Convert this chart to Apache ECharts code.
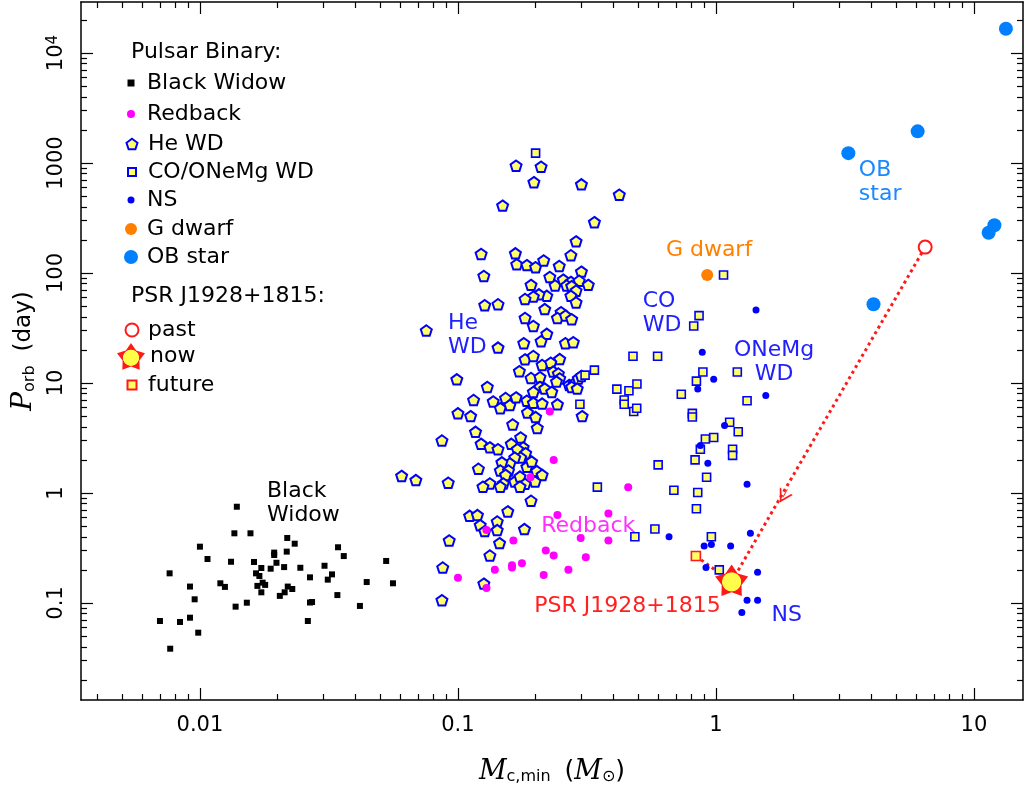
<!DOCTYPE html>
<html>
<head>
<meta charset="utf-8">
<title>Pulsar binaries: orbital period vs minimum companion mass</title>
<script src="https://cdn.jsdelivr.net/npm/echarts@6/dist/echarts.min.js"></script>
<style>
  html, body { margin: 0; padding: 0; background: #fff; }
  #chart { width: 1026px; height: 802px; }
</style>
</head>
<body>
<div id="chart"></div>
<script>
// minimum companion mass (Msun) and orbital period (day)
const bwMass = [0.0139, 0.0136, 0.0157, 0.0100, 0.0218, 0.0233, 0.0343, 0.0107, 0.0132, 0.0162,
  0.0194, 0.0194, 0.0217, 0.0198, 0.0173, 0.0188, 0.0212, 0.0245, 0.0361, 0.0304,
  0.0527, 0.00763, 0.0165, 0.0170, 0.0267, 0.0325, 0.0313, 0.0120, 0.0125, 0.0167,
  0.0175, 0.0179, 0.0219, 0.0228, 0.0173, 0.0213, 0.0204, 0.00915, 0.0443, 0.0560,
  0.00954, 0.0341, 0.0267, 0.0272, 0.0152, 0.01375, 0.0417, 0.0070, 0.00837, 0.00915,
  0.00985, 0.0262, 0.00767];
const bwPeriod = [0.75, 0.43, 0.43, 0.325, 0.39, 0.346, 0.321, 0.251, 0.237, 0.236,
  0.287, 0.273, 0.293, 0.232, 0.208, 0.205, 0.212, 0.209, 0.267, 0.218,
  0.241, 0.186, 0.186, 0.176, 0.171, 0.182, 0.163, 0.151, 0.140, 0.143,
  0.153, 0.146, 0.141, 0.134, 0.125, 0.125, 0.116, 0.141, 0.155, 0.151,
  0.108, 0.118, 0.101, 0.102, 0.1006, 0.0926, 0.094, 0.0686, 0.0672, 0.0735,
  0.0537, 0.0686, 0.0384];

const heWdMass = [0.168, 0.210, 0.197, 0.301, 0.422, 0.149, 0.338, 0.287, 0.123, 0.167,
  0.274, 0.126, 0.169, 0.185, 0.200, 0.215, 0.247, 0.301, 0.227, 0.192,
  0.238, 0.256, 0.274, 0.295, 0.320, 0.264, 0.276, 0.287, 0.274, 0.221,
  0.206, 0.196, 0.182, 0.287, 0.127, 0.143, 0.0754, 0.143, 0.217, 0.251,
  0.243, 0.261, 0.276, 0.182, 0.196, 0.221, 0.210, 0.180, 0.261, 0.280,
  0.182, 0.196, 0.248, 0.212, 0.229, 0.173, 0.192, 0.208, 0.234, 0.245,
  0.248, 0.241, 0.270, 0.282, 0.293, 0.301, 0.208, 0.217, 0.231, 0.196,
  0.276, 0.290, 0.099, 0.130, 0.115, 0.137, 0.146, 0.153, 0.159, 0.168,
  0.185, 0.196, 0.212, 0.243, 0.186, 0.200, 0.303, 0.100, 0.112, 0.163,
  0.203, 0.117, 0.175, 0.0867, 0.123, 0.133, 0.143, 0.161, 0.179, 0.170,
  0.183, 0.175, 0.166, 0.159, 0.148, 0.146, 0.157, 0.153, 0.166, 0.174,
  0.185, 0.193, 0.202, 0.212, 0.199, 0.182, 0.174, 0.150, 0.146, 0.133,
  0.125, 0.120, 0.0605, 0.0687, 0.0917, 0.192, 0.156, 0.111, 0.119, 0.122,
  0.127, 0.142, 0.142, 0.181, 0.145, 0.0925, 0.133, 0.0873, 0.126, 0.0867];
const heWdPeriod = [945, 925, 670, 640, 515, 410, 290, 194, 149, 151,
  145, 94, 120, 118, 113, 130, 116, 103, 92, 78,
  77, 87, 83, 85, 78, 77, 76, 69, 62, 62,
  64, 61, 58, 54, 51, 52, 30, 21, 47, 44,
  39, 41, 38, 39, 33, 28, 24, 23, 23, 23.5,
  16.4, 17.6, 16.5, 14.6, 15.3, 12.8, 11.1, 11.3, 12.7, 12.2,
  11.0, 10.3, 9.6, 9.9, 11.0, 11.6, 9.2, 8.9, 8.3, 8.3,
  9.2, 8.9, 10.8, 9.2, 7.0, 6.8, 5.9, 7.3, 6.3, 7.4,
  6.9, 6.6, 6.5, 6.4, 5.4, 4.9, 5.0, 5.3, 5.0, 4.2,
  3.9, 3.6, 3.2, 3.0, 2.8, 2.6, 2.5, 2.8, 2.6, 2.5,
  2.3, 2.1, 2.1, 1.86, 1.9, 1.6, 1.6, 1.46, 1.27, 1.41,
  1.73, 1.93, 1.58, 1.46, 1.27, 1.21, 1.14, 1.22, 1.14, 1.22,
  1.14, 1.66, 1.43, 1.31, 1.24, 0.85, 0.68, 0.62, 0.63, 0.51,
  0.45, 0.55, 0.46, 0.47, 0.35, 0.37, 0.27, 0.21, 0.15, 0.106];

const coWdMass = [0.200, 1.07, 0.86, 0.82, 0.477, 0.594, 0.89, 0.84, 1.21, 0.338,
  0.311, 0.297, 0.413, 0.460, 0.494, 0.441, 0.441, 0.480, 0.493, 0.734,
  0.81, 0.81, 1.32, 1.13, 1.22, 0.98, 0.91, 0.87, 1.16, 1.16,
  0.597, 0.83, 0.92, 0.687, 0.85, 0.84, 0.58, 0.96, 1.03, 0.347, 0.485];
const coWdPeriod = [1230, 96, 41, 33, 17.5, 17.5, 12.6, 10.4, 12.6, 13.1,
  11.8, 6.4, 8.8, 8.5, 9.8, 7.0, 6.4, 5.5, 5.9, 7.9,
  5.3, 4.9, 6.9, 4.4, 3.6, 3.2, 3.1, 2.5, 2.5, 2.2,
  1.8, 2.0, 1.39, 1.06, 1.01, 0.72, 0.47, 0.40, 0.20, 1.13, 0.40];

const nsMass = [1.43, 0.885, 0.98, 0.85, 1.56, 1.08, 0.87, 0.93, 1.32, 0.658,
  1.36, 0.90, 0.96, 1.14, 0.915, 1.45, 1.32, 1.45, 1.26];
const nsPeriod = [46, 19, 10.8, 8.8, 7.7, 4.1, 2.7, 1.86, 1.2, 0.40,
  0.43, 0.33, 0.34, 0.33, 0.21, 0.19, 0.106, 0.106, 0.082];

const redbackMass = [0.235, 0.191, 0.243, 0.129, 0.164, 0.219, 0.235, 0.177, 0.162, 0.162,
  0.139, 0.215, 0.100, 0.129, 0.227, 0.457, 0.383, 0.299, 0.383, 0.313, 0.268];
const redbackPeriod = [2.0, 1.39, 0.63, 0.46, 0.37, 0.30, 0.27, 0.23, 0.22, 0.21,
  0.20, 0.18, 0.17, 0.137, 5.5, 1.13, 0.65, 0.39, 0.37, 0.26, 0.20];

const gDwarfMass = [0.925];
const gDwarfPeriod = [96];

const obMass = [13.3, 6.05, 3.26, 12.0, 11.4, 4.08];
const obPeriod = [16600, 1940, 1230, 272, 232, 52];

// PSR J1928+1815 evolution [mass, period]
const psrPast = [6.47, 172];
const psrNow = [1.15, 0.156];
const psrFuture = [0.836, 0.267];
const arrowTip = [1.82, 0.92];

// axes
const massRange = [0.00346, 15.49];
const periodRange = [0.01312, 29100];
const massTicks = [0.01, 0.1, 1, 10];
const massTickLabels = ['0.01', '0.1', '1', '10'];
const periodTicks = [0.1, 1, 10, 100, 1000, 10000];
const periodTickLabels = ['0.1', '1', '10', '100', '1000', '{b|10}{sup|4}'];

// text notes inside the plot
const noteText = ['Black\nWidow', 'He\nWD', 'CO\nWD', 'ONeMg\nWD', 'G dwarf', 'OB\nstar', 'Redback', 'PSR J1928+1815', 'NS'];
const noteMass = [0.0182, 0.0915, 0.52, 1.68, 0.94, 3.58, 0.32, 0.454, 1.88];
const notePeriod = [0.80, 27.3, 42.6, 15.5, 162, 665, 0.494, 0.0925, 0.078];
const noteColor = ['#000000', '#2020ff', '#2020ff', '#2020ff', '#ff8000', '#1a88ff', '#ff30ff', '#ff2020', '#2020ff'];
const noteAlign = ['left', 'left', 'left', 'center', 'center', 'left', 'center', 'center', 'center'];

const FONT = 'DejaVu Sans';
const lg = Math.log10;
const pt = p => [lg(p[0]), lg(p[1])];
const pts = (m, p) => m.map((v, i) => [lg(v), lg(p[i])]);

function minorTicks(range) {
  const out = [];
  for (let d = -3; d <= 4; d++) {
    for (let k = 2; k <= 9; k++) {
      const v = k * Math.pow(10, d);
      if (v > range[0] && v < range[1]) out.push(lg(v));
    }
  }
  return out;
}

const SQUARE = 'path://M0,0 L10,0 L10,10 L0,10 Z';
const PENTAGON = 'path://M10,0 L19.51,6.91 L15.88,18.09 L4.12,18.09 L0.49,6.91 Z';
const STAR = 'path://M10,0 L13.53,5.15 L19.51,6.91 L15.71,11.85 L15.88,18.09 L10,16 L4.12,18.09 L4.29,11.85 L0.49,6.91 L6.47,5.15 Z';
const CHEVRON = 'path://M0,12 L7,0 L14,12 L12.2,12 L7,3.2 L1.8,12 Z';
const YELLOW = '#ffff66';
const RED = '#ff1a1a';

function axis(pos, range, major, length, opts) {
  return Object.assign({
    type: 'value',
    position: pos,
    min: lg(range[0]),
    max: lg(range[1]),
    splitLine: { show: false },
    axisLine: { show: false, onZero: false },
    axisTick: { show: true, inside: true, length: length, customValues: major,
      lineStyle: { color: '#000', width: 1.2 } },
    axisLabel: { show: false }
  }, opts || {});
}

const frameLine = { show: true, onZero: false, lineStyle: { color: '#000', width: 1.5 } };
const massMajor = massTicks.map(lg);
const periodMajor = periodTicks.map(lg);
const massMinor = minorTicks(massRange);
const periodMinor = minorTicks(periodRange);

function tickLabel(ticks, labels) {
  return v => {
    const i = ticks.findIndex(t => Math.abs(lg(t) - v) < 1e-6);
    return i < 0 ? '' : labels[i];
  };
}

const xAxes = [
  axis('bottom', massRange, massMajor, 12, {
    axisLine: frameLine,
    axisLabel: { show: true, customValues: massMajor, formatter: tickLabel(massTicks, massTickLabels),
      margin: 15, fontFamily: FONT, fontSize: 21, color: '#000' },
    name: '{m|M}{s|c,min}  {p|(}{m|M}{s|⊙}{p|)}',
    nameLocation: 'middle',
    nameGap: 58,
    nameTextStyle: {
      color: '#000', fontFamily: FONT, fontSize: 22,
      rich: {
        m: { fontFamily: 'DejaVu Serif', fontStyle: 'italic', fontSize: 27, color: '#000' },
        s: { fontFamily: FONT, fontSize: 16, verticalAlign: 'bottom', color: '#000' },
        p: { fontFamily: FONT, fontSize: 25, color: '#000' }
      }
    }
  }),
  axis('bottom', massRange, massMinor, 6),
  axis('top', massRange, massMajor, 12, { axisLine: frameLine }),
  axis('top', massRange, massMinor, 6)
];

const yAxes = [
  axis('left', periodRange, periodMajor, 12, {
    axisLine: frameLine,
    axisLabel: { show: true, customValues: periodMajor, formatter: tickLabel(periodTicks, periodTickLabels),
      rotate: 90, margin: 14, fontFamily: FONT, fontSize: 21, color: '#000',
      rich: {
        b: { fontFamily: FONT, fontSize: 21, color: '#000' },
        sup: { fontFamily: FONT, fontSize: 15, verticalAlign: 'top', color: '#000' }
      } },
    name: '{m|P}{s|orb}  {p|(day)}',
    nameLocation: 'middle',
    nameGap: 40,
    nameTextStyle: {
      color: '#000', fontFamily: FONT, fontSize: 22,
      rich: {
        m: { fontFamily: 'DejaVu Serif', fontStyle: 'italic', fontSize: 28, color: '#000' },
        s: { fontFamily: FONT, fontSize: 16, verticalAlign: 'bottom', color: '#000' },
        p: { fontFamily: FONT, fontSize: 23, color: '#000' }
      }
    }
  }),
  axis('left', periodRange, periodMinor, 6),
  axis('right', periodRange, periodMajor, 12, { axisLine: frameLine }),
  axis('right', periodRange, periodMinor, 6)
];

function scatter(name, data, symbol, size, itemStyle, extra) {
  return Object.assign({
    name: name,
    type: 'scatter',
    data: data,
    symbol: symbol,
    symbolSize: size,
    symbolKeepAspect: true,
    itemStyle: Object.assign({ opacity: 1 }, itemStyle),
    emphasis: { disabled: true },
    silent: true,
    animation: false,
    z: 3
  }, extra || {});
}

// arrow head sits on the past -> now track
const tipLog = pt(arrowTip);
const pastLog = pt(psrPast);
const preLog = [tipLog[0] + 0.03 * (pastLog[0] - tipLog[0]), tipLog[1] + 0.03 * (pastLog[1] - tipLog[1])];

const dotted = { color: RED, width: 3, type: [3, 3.5] };

const series = [
  {
    name: 'track', type: 'line', data: [pt(psrPast), pt(psrNow)], symbol: 'none', silent: true,
    lineStyle: dotted, animation: false, z: 1,
    markLine: {
      silent: true, animation: false, symbol: ['none', CHEVRON], symbolSize: [15, 13],
      label: { show: false }, lineStyle: { color: RED, width: 1, type: 'solid', opacity: 1 },
      data: [[{ coord: preLog }, { coord: tipLog }]]
    }
  },
  {
    name: 'track2', type: 'line', data: [pt(psrFuture), pt(psrNow)], symbol: 'none', silent: true,
    lineStyle: dotted, animation: false, z: 1
  },
  scatter('Black Widow', pts(bwMass, bwPeriod), SQUARE, 6, { color: '#000' }),
  scatter('He WD', pts(heWdMass, heWdPeriod), PENTAGON, 11, { color: YELLOW, borderColor: '#0000ff', borderWidth: 2 }),
  scatter('CO/ONeMg WD', pts(coWdMass, coWdPeriod), SQUARE, 8, { color: YELLOW, borderColor: '#0000ff', borderWidth: 1.6 }),
  scatter('NS', pts(nsMass, nsPeriod), 'circle', 7, { color: '#0000ff' }),
  scatter('Redback', pts(redbackMass, redbackPeriod), 'circle', 8, { color: '#ff00ff' }),
  scatter('G dwarf', pts(gDwarfMass, gDwarfPeriod), 'circle', 12, { color: '#ff7f00' }),
  scatter('OB star', pts(obMass, obPeriod), 'circle', 14, { color: '#0080ff' }),
  scatter('past', [pt(psrPast)], 'emptyCircle', 13, { color: RED, borderColor: RED, borderWidth: 1.6 }),
  scatter('future', [pt(psrFuture)], SQUARE, 9, { color: YELLOW, borderColor: RED, borderWidth: 1.6 }),
  scatter('now', [pt(psrNow)], STAR, 33, {
    color: {
      type: 'radial', x: 0.5, y: 0.553, r: 0.5,
      colorStops: [
        { offset: 0, color: '#ffff4a' }, { offset: 0.58, color: '#ffff4a' },
        { offset: 0.63, color: RED }, { offset: 1, color: RED }
      ]
    }
  }, { symbolOffset: [0, -1.5], z: 5 }),
  {
    name: 'notes', type: 'scatter', silent: true, animation: false, z: 4,
    symbol: 'circle', symbolSize: 1, itemStyle: { color: 'rgba(0,0,0,0)', opacity: 1 },
    emphasis: { disabled: true },
    label: { show: true, position: 'inside', verticalAlign: 'middle', opacity: 1,
      fontFamily: FONT, fontSize: 22, lineHeight: 24 },
    data: noteText.map((t, i) => ({
      value: [lg(noteMass[i]), lg(notePeriod[i])],
      label: { formatter: t, color: noteColor[i], align: noteAlign[i] }
    }))
  }
];

// legend rows: name, centre y of the row, icon size
const legendRows = [
  ['Black Widow', 83, 7], ['Redback', 114, 8], ['He WD', 144, 11], ['CO/ONeMg WD', 172, 8],
  ['NS', 200, 7], ['G dwarf', 229, 12], ['OB star', 257, 14],
  ['past', 330, 13], ['now', 357, 28], ['future', 385, 9]
];
const legendX = 131;     // icon centre
const legendTextX = 147; // text start

const legends = legendRows.map(([name, cy, size]) => {
  const boxH = Math.max(size, 22);
  const pad = Math.max(0, legendTextX - (legendX + size / 2 + 5));
  return {
    data: [name],
    left: legendX - size / 2,
    top: cy - boxH / 2,
    padding: 0,
    itemWidth: size,
    itemHeight: size,
    selectedMode: false,
    textStyle: { fontFamily: FONT, fontSize: 22, color: '#000', padding: [0, 0, 0, pad] }
  };
});

const titleStyle = { fontFamily: FONT, fontSize: 22, fontWeight: 'normal', color: '#000' };

const chart = echarts.init(document.getElementById('chart'), null, { renderer: 'canvas' });
chart.setOption({
  backgroundColor: '#ffffff',
  animation: false,
  title: [
    { text: 'Pulsar Binary:', left: legendX, top: 53 - 12, padding: 0, textStyle: titleStyle },
    { text: 'PSR J1928+1815:', left: legendX, top: 297 - 12, padding: 0, textStyle: titleStyle }
  ],
  legend: legends,
  grid: { left: 81, top: 2, width: 942, height: 698, containLabel: false },
  xAxis: xAxes,
  yAxis: yAxes,
  series: series
});
</script>
</body>
</html>
